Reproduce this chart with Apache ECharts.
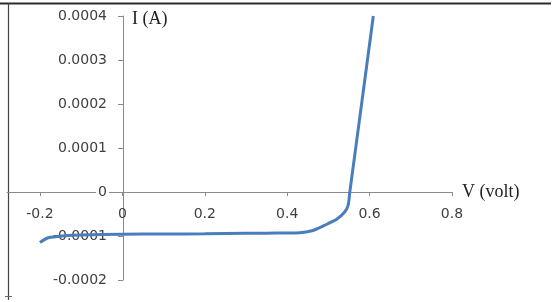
<!DOCTYPE html>
<html>
<head>
<meta charset="utf-8">
<script src="https://cdn.jsdelivr.net/npm/echarts@6/dist/echarts.min.js"></script>
<style>
  html, body { margin: 0; padding: 0; background: #fff; }
  #main { width: 553px; height: 302px; }
</style>
</head>
<body>
<div id="main"></div>
<script>
// voltage (V) and current (A)
var voltage = [-0.2, -0.18, -0.14, -0.1, 0, 0.1, 0.2, 0.3, 0.35, 0.43, 0.46, 0.49, 0.52, 0.54, 0.548, 0.552, 0.58, 0.609];
var current = [-0.000115, -0.000104, -0.0000995, -0.0000975, -0.000096, -0.0000955, -0.000095, -0.000094, -0.0000935, -0.0000925, -0.000088, -0.000076, -0.000062, -0.000045, -0.00003, 0, 0.000196, 0.0004];
var xTicks = [-0.2, 0, 0.2, 0.4, 0.6, 0.8];
var yTicks = [-0.0002, -0.0001, 0, 0.0001, 0.0002, 0.0003, 0.0004];

var points = voltage.map(function (v, i) { return [v, current[i]]; });

var chart = echarts.init(document.getElementById('main'));
var axisColor = '#8a8a8a';
var labelFont = { color: '#404040', fontFamily: 'DejaVu Sans', fontSize: 14 };

// the axes cross at (0, 0); offsets put them there instead of the grid edges
chart.setOption({
  animation: false,
  grid: { left: 7, right: 101, top: 16, bottom: 22, containLabel: false, outerBoundsMode: 'none' },
  xAxis: {
    type: 'value',
    min: -0.28,
    max: 0.8,
    position: 'bottom',
    offset: -88,
    name: 'V (volt)',
    nameLocation: 'end',
    nameGap: 10,
    nameTextStyle: { color: '#222', fontFamily: 'Liberation Serif', fontSize: 18 },
    axisLine: { onZero: false, lineStyle: { color: axisColor, width: 1 } },
    axisTick: { show: true, length: 4, customValues: xTicks, lineStyle: { color: axisColor } },
    axisLabel: Object.assign({
      customValues: xTicks,
      margin: 15,
      formatter: function (v) { return v === 0 ? '0' : v.toFixed(1); }
    }, labelFont),
    splitLine: { show: false }
  },
  yAxis: {
    type: 'value',
    min: -0.0002,
    max: 0.0004,
    position: 'left',
    offset: -116,
    name: 'I (A)',
    nameLocation: 'end',
    nameGap: -3,
    nameTextStyle: {
      color: '#222', fontFamily: 'Liberation Serif', fontSize: 18,
      align: 'left', verticalAlign: 'middle', padding: [0, 0, 0, 9]
    },
    axisLine: { onZero: false, lineStyle: { color: axisColor, width: 1 } },
    axisTick: { show: true, length: 5, customValues: yTicks, lineStyle: { color: axisColor } },
    axisLabel: Object.assign({
      customValues: yTicks,
      margin: 14,
      backgroundColor: '#fff',
      padding: [0, 2],
      formatter: function (v) { return v === 0 ? '0' : v.toFixed(4); }
    }, labelFont),
    splitLine: { show: false }
  },
  series: [{
    type: 'line',
    data: points,
    smooth: 0.25,
    showSymbol: false,
    lineStyle: { color: '#4a7ebb', width: 3 }
  }],
  graphic: [
    // outer frame remnants of the original figure
    { type: 'line', shape: { x1: 0, y1: 3.5, x2: 551, y2: 3.5 }, style: { stroke: '#2a2a2a', lineWidth: 2 } },
    { type: 'line', shape: { x1: 8.5, y1: 3, x2: 8.5, y2: 300 }, style: { stroke: '#444', lineWidth: 1.2 } },
    { type: 'line', shape: { x1: 5, y1: 296.5, x2: 12, y2: 296.5 }, style: { stroke: '#666', lineWidth: 1 } }
  ]
});
</script>
</body>
</html>
